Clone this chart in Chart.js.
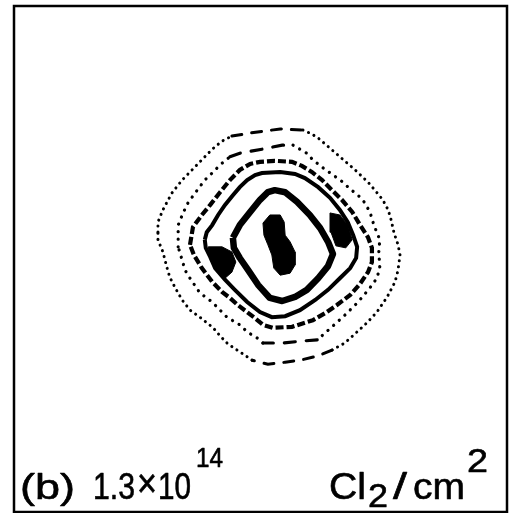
<!DOCTYPE html>
<html>
<head>
<meta charset="utf-8">
<script src="https://cdn.jsdelivr.net/npm/chart.js@4"></script>
<style>
  html, body { margin: 0; padding: 0; background: #fff; }
  #wrap { width: 512px; height: 513px; }
</style>
</head>
<body>
<div id="wrap"><canvas id="contourChart"></canvas></div>
<script>
// Contour levels of the etch pattern, outermost (E) to innermost (A).
// Coordinates in frame units: 0-100 across, 0-100 bottom to top.
const ringE = [[29.2,55.3],[29.2,57.3],[30.2,59.7],[32.0,63.0],[34.1,65.6],[36.1,67.6],[38.1,69.6],[40.2,71.7],[42.2,73.3],[44.2,74.3],[47.9,74.9],[50.9,75.3],[54.0,75.7],[58.6,75.5],[60.4,74.7],[61.7,73.9],[66.1,70.2],[69.2,67.6],[71.8,65.2],[73.2,63.6],[74.8,61.7],[75.9,59.7],[76.5,57.7],[77.1,55.1],[77.9,52.8],[78.3,50.8],[77.9,47.8],[77.3,45.5],[75.7,42.5],[73.6,39.5],[71.6,37.4],[69.6,35.6],[67.1,33.4],[64.5,32.0],[61.5,30.8],[58.0,30.0],[55.0,29.6],[51.5,29.2],[48.3,30.0],[46.2,31.4],[43.4,33.2],[41.8,34.8],[40.4,36.4],[37.7,38.5],[35.7,39.9],[34.1,41.9],[32.7,44.3],[31.6,46.4],[31.0,48.4],[30.2,51.4],[29.2,53.8],[29.2,55.3]];
const ringD = [[33.3,52.4],[33.3,54.7],[33.3,56.7],[34.3,59.1],[35.3,61.1],[36.7,63.0],[38.7,65.6],[40.2,67.0],[41.8,68.6],[43.8,70.2],[45.8,70.9],[50.3,71.7],[54.4,72.5],[56.6,72.5],[58.0,71.7],[59.4,70.9],[60.6,69.6],[62.7,68.0],[64.7,66.6],[66.7,65.2],[68.2,63.8],[69.8,62.6],[71.0,61.3],[72.2,59.3],[73.0,56.7],[74.2,53.8],[74.0,51.4],[74.2,48.2],[73.6,46.2],[72.2,44.3],[69.8,41.5],[67.1,38.9],[64.5,36.6],[61.5,34.0],[58.6,33.8],[54.6,33.4],[50.5,33.4],[49.3,34.4],[47.3,35.6],[45.8,37.0],[43.2,38.5],[40.2,41.5],[37.7,43.3],[35.7,46.2],[34.7,47.8],[34.1,49.8],[33.3,52.4]];
const ringC = [[35.7,52.8],[36.3,56.3],[38.1,58.7],[39.8,60.7],[41.8,63.2],[43.8,65.6],[45.8,67.6],[47.9,68.8],[49.9,69.2],[52.9,69.4],[56.4,69.2],[58.4,68.4],[60.4,67.2],[62.5,65.6],[64.5,63.6],[66.5,61.7],[68.6,59.3],[70.2,56.7],[71.8,54.3],[72.6,52.2],[72.6,49.4],[71.8,47.4],[70.2,45.1],[68.2,42.9],[65.5,40.9],[63.1,39.3],[60.6,37.9],[56.4,36.6],[52.5,36.4],[50.5,37.0],[48.9,38.3],[47.3,39.5],[45.4,40.9],[43.8,42.3],[42.2,43.5],[40.2,45.5],[38.1,48.2],[36.5,50.8],[35.7,52.8]];
const ringB = [[38.7,53.8],[39.1,55.3],[40.2,56.7],[41.4,58.7],[42.8,60.7],[44.4,62.6],[45.8,64.2],[47.3,65.6],[48.9,66.6],[50.3,67.0],[54.0,67.2],[57.0,66.8],[59.0,66.0],[61.7,64.2],[64.1,62.1],[66.1,59.7],[67.7,57.3],[68.8,54.7],[69.6,52.4],[69.4,50.2],[68.2,48.2],[66.1,46.2],[63.7,43.9],[61.1,41.9],[58.0,39.9],[55.0,38.7],[52.3,38.5],[49.9,39.5],[47.3,41.5],[44.8,43.9],[42.8,45.9],[40.8,48.2],[39.8,50.4],[38.9,52.2],[38.7,53.8]];
const ringA = [[44.4,54.2],[45.8,56.7],[47.9,59.3],[49.9,61.7],[51.5,63.2],[52.9,63.6],[55.0,63.2],[57.4,61.3],[60.0,58.7],[62.1,56.1],[63.7,53.4],[64.7,51.0],[63.7,48.6],[61.7,46.2],[59.4,43.9],[57.0,42.5],[54.4,41.7],[51.9,42.3],[49.5,44.9],[47.5,47.8],[45.8,50.2],[44.6,52.2],[44.4,54.2]];

// Solid regions where neighbouring levels run together, plus the central peak
const patchLeft = [[39.4,52.4],[42.2,52.4],[44.2,51.4],[45.0,49.4],[44.2,47.4],[42.8,46.2],[41.0,48.2],[39.8,50.4],[39.4,52.4]];
const patchRight = [[64.1,59.1],[66.1,58.7],[67.7,56.7],[68.6,53.8],[67.3,52.2],[65.3,52.6],[64.3,55.3],[64.1,59.1]];
const peak = [[51.9,58.7],[54.0,58.7],[54.8,57.3],[55.0,54.7],[56.0,53.4],[57.0,51.4],[57.0,48.8],[56.0,47.2],[54.0,46.8],[52.7,48.2],[52.3,50.8],[51.5,52.8],[50.7,54.7],[50.5,57.1],[51.9,58.7]];

// Dose label pieces: text, size, width and placement (x from frame left, y from frame bottom)
const labelParts = [
  { text: '(b)', dx: 6, dy: -13, size: 35, w: 55 },
  { text: '1.3', dx: 79, dy: -13, size: 36, w: 42 },
  { text: '\u00d7', dx: 123, dy: -15, size: 40, w: 20 },
  { text: '10', dx: 144, dy: -13, size: 36, w: 33 },
  { text: '14', dx: 182, dy: -45, size: 28, w: 27 },
  { text: 'Cl', dx: 315, dy: -13, size: 36, w: 37 },
  { text: '2', dx: 354, dy: -5, size: 34, w: 20 },
  { text: '/', dx: 379, dy: -13, size: 36, w: 14 },
  { text: 'cm', dx: 399, dy: -13, size: 36, w: 52 },
  { text: '2', dx: 453, dy: -40, size: 34, w: 21 }
];

const toPoints = arr => arr.map(([x, y]) => ({ x, y }));

// dashes on the flat runs, dots on the slanted ones
function mixedDash(dash, dotGap) {
  return ctx => {
    const dx = Math.abs(ctx.p1.x - ctx.p0.x);
    const dy = Math.abs(ctx.p1.y - ctx.p0.y);
    return dy < dx * 0.45 ? [dash, dash] : [0.1, dotGap];
  };
}

function line(data, opts) {
  return Object.assign({
    data: toPoints(data),
    showLine: true,
    borderColor: '#000',
    backgroundColor: '#000',
    pointRadius: 0,
    tension: 0,
    fill: false
  }, opts);
}

function solid(data) {
  return line(data, { borderWidth: 1, fill: 'shape' });
}

const framePlugin = {
  id: 'frameAndLabel',
  afterDatasetsDraw(chart) {
    const { ctx, chartArea: a } = chart;
    ctx.save();
    ctx.strokeStyle = '#000';
    ctx.lineWidth = 2.5;
    ctx.strokeRect(a.left, a.top, a.right - a.left, a.bottom - a.top);

    // each piece is stretched to its own width
    ctx.fillStyle = '#000';
    ctx.lineWidth = 0.6;
    ctx.lineJoin = 'round';
    ctx.textBaseline = 'alphabetic';
    labelParts.forEach(p => {
      ctx.font = p.size + 'px "Liberation Sans", Arial, sans-serif';
      const m = ctx.measureText(p.text).width;
      ctx.save();
      ctx.translate(a.left + p.dx, a.bottom + p.dy);
      ctx.scale(p.w / m, 1);
      ctx.fillText(p.text, 0, 0);
      ctx.strokeText(p.text, 0, 0);
      ctx.restore();
    });
    ctx.restore();
  }
};

new Chart(document.getElementById('contourChart'), {
  type: 'scatter',
  data: {
    datasets: [
      line(ringE, { borderWidth: 3, borderCapStyle: 'round', segment: { borderDash: mixedDash(10, 6) } }),
      line(ringD, { borderWidth: 3.2, borderCapStyle: 'round', segment: { borderDash: mixedDash(11, 7.5) } }),
      line(ringC, { borderWidth: 4.2, borderDash: [8, 3] }),
      line(ringB, { borderWidth: 4 }),
      line(ringA, { borderWidth: 6.5, borderJoinStyle: 'round' }),
      solid(patchLeft),
      solid(patchRight),
      solid(peak)
    ]
  },
  options: {
    responsive: true,
    maintainAspectRatio: false,
    animation: false,
    events: [],
    layout: { padding: { left: 14, top: 6, right: 5, bottom: 1 } },
    plugins: {
      legend: { display: false },
      tooltip: { enabled: false }
    },
    scales: {
      x: { type: 'linear', min: 0, max: 100, display: false },
      y: { type: 'linear', min: 0, max: 100, display: false }
    }
  },
  plugins: [framePlugin]
});
</script>
</body>
</html>
